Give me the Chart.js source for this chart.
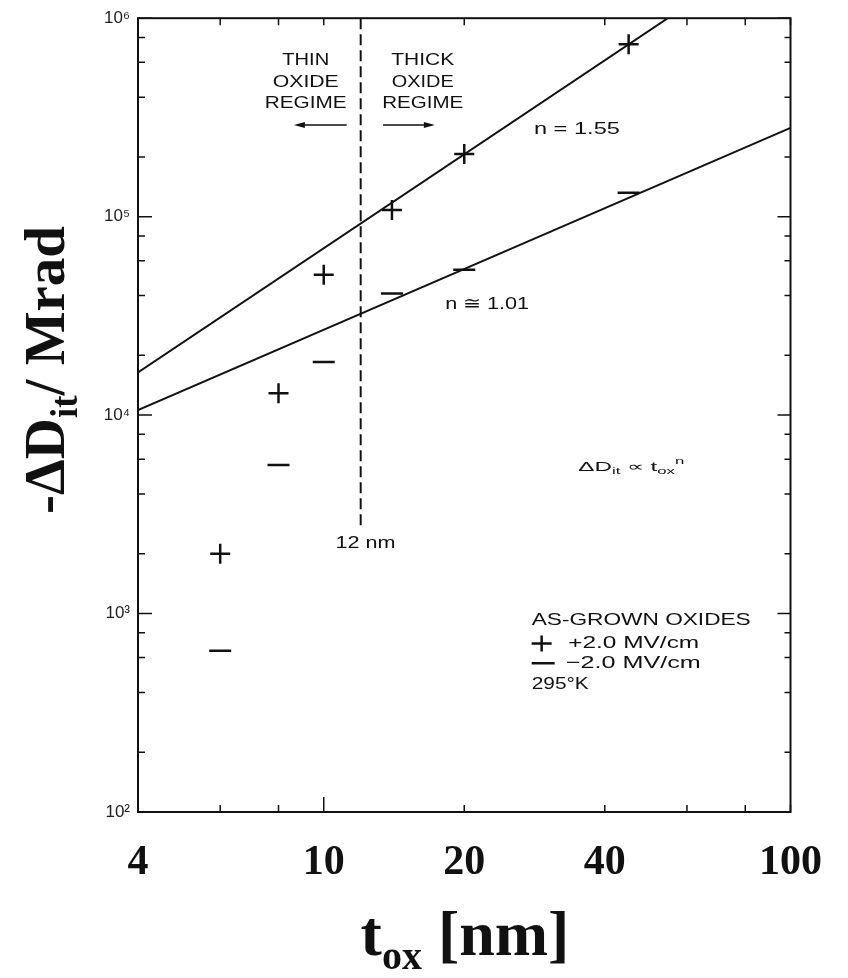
<!DOCTYPE html>
<html>
<head>
<meta charset="utf-8">
<title>Interface traps vs oxide thickness</title>
<script src="https://cdn.jsdelivr.net/npm/chart.js@4"></script>
<style>
  html, body { margin: 0; padding: 0; background: #fff; }
  #wrap { width: 848px; height: 978px; }
</style>
</head>
<body>
<div id="wrap"><canvas id="myChart" width="848" height="978"></canvas></div>
<script>
// oxide thickness (nm) and -dDit per Mrad, +2.0 MV/cm stress
const plusThickness = [6, 8, 10, 14, 20, 45];
const plusDit = [2000, 12900, 51000, 108000, 207000, 740000];
// same for -2.0 MV/cm
const minusThickness = [6, 8, 10, 14, 20, 45];
const minusDit = [650, 5600, 18500, 41000, 54000, 132000];

// power-law fits, end points
const fitSteepX = [4, 54.6];
const fitSteepY = [16400, 1000000];
const fitFlatX = [4, 100];
const fitFlatY = [10600, 280000];

// 12 nm boundary between the two regimes
const boundaryX = [12, 12];
const boundaryY = [1000000, 2700];

// axis ticks
const xTickValues = [4, 6, 8, 10, 20, 40, 60, 80, 100];
const xTickLabels = { 4: '4', 10: '10', 20: '20', 40: '40', 100: '100' };
const yTickValues = [100, 200, 400, 600, 800,
  1000, 2000, 4000, 6000, 8000,
  10000, 20000, 40000, 60000, 80000,
  100000, 200000, 400000, 600000, 800000, 1000000];
const yTickLabels = { 100: '10\u00b2', 1000: '10\u00b3', 10000: '10\u2074', 100000: '10\u2075', 1000000: '10\u2076' };

const INK = '#111';
const SANS = '"Liberation Sans", Arial, sans-serif';
const SERIF = '"Liberation Serif", "Times New Roman", serif';

function pairs(xs, ys) {
  return xs.map((x, i) => ({ x: x, y: ys[i] }));
}

// draws a run of pieces [text, size, dy] squeezed/stretched to a given width
function richText(ctx, pieces, x, y, width, align, weight, family) {
  let total = 0;
  pieces.forEach(p => {
    ctx.font = weight + ' ' + p[1] + 'px ' + family;
    total += ctx.measureText(p[0]).width;
  });
  const sx = width ? width / total : 1;
  ctx.save();
  ctx.translate(x, y);
  ctx.scale(sx, 1);
  let cx = align === 'center' ? -total / 2 : 0;
  ctx.textAlign = 'left';
  pieces.forEach(p => {
    ctx.font = weight + ' ' + p[1] + 'px ' + family;
    ctx.fillText(p[0], cx, p[2] || 0);
    cx += ctx.measureText(p[0]).width;
  });
  ctx.restore();
}

function arrow(ctx, x1, x2, y) {
  const dir = x2 > x1 ? 1 : -1;
  ctx.beginPath();
  ctx.moveTo(x1, y);
  ctx.lineTo(x2 - dir * 6, y);
  ctx.stroke();
  ctx.beginPath();
  ctx.moveTo(x2, y);
  ctx.lineTo(x2 - dir * 11, y - 3);
  ctx.lineTo(x2 - dir * 11, y + 3);
  ctx.closePath();
  ctx.fill();
}

// frame, inward ticks, annotations and axis titles
const decorations = {
  id: 'decorations',
  afterDraw(chart) {
    const { ctx, chartArea: a } = chart;
    const xs = chart.scales.x, ys = chart.scales.y;
    const px = v => xs.getPixelForValue(v);
    const py = v => ys.getPixelForValue(v);
    ctx.save();
    ctx.strokeStyle = INK;
    ctx.fillStyle = INK;

    // ticks on all four sides
    ctx.lineWidth = 1.5;
    ctx.beginPath();
    xTickValues.forEach(v => {
      const x = px(v);
      ctx.moveTo(x, a.bottom);
      ctx.lineTo(x, a.bottom - (v === 10 ? 15 : 7));
      ctx.moveTo(x, a.top);
      ctx.lineTo(x, a.top + 7);
    });
    yTickValues.forEach(v => {
      const y = py(v);
      const major = yTickLabels[v] !== undefined;
      ctx.moveTo(a.left, y);
      ctx.lineTo(a.left + (major ? 14 : 7), y);
      ctx.moveTo(a.right, y);
      ctx.lineTo(a.right - (major ? 13 : 6), y);
    });
    ctx.stroke();

    ctx.lineWidth = 2;
    ctx.strokeRect(a.left, a.top, a.right - a.left, a.bottom - a.top);

    // regime labels
    ctx.textBaseline = 'middle';
    const f = 17;
    const w = 'normal';
    richText(ctx, [['THIN', f]], px(9.15), py(6.15e5), 47, 'center', w, SANS);
    richText(ctx, [['OXIDE', f]], px(9.15), py(4.77e5), 66, 'center', w, SANS);
    richText(ctx, [['REGIME', f]], px(9.15), py(3.74e5), 82, 'center', w, SANS);
    richText(ctx, [['THICK', f]], px(16.3), py(6.15e5), 63, 'center', w, SANS);
    richText(ctx, [['OXIDE', f]], px(16.3), py(4.77e5), 62, 'center', w, SANS);
    richText(ctx, [['REGIME', f]], px(16.3), py(3.74e5), 81, 'center', w, SANS);
    ctx.lineWidth = 1.5;
    arrow(ctx, px(11.2), px(8.63), py(2.9e5));
    arrow(ctx, px(13.4), px(17.3), py(2.9e5));

    richText(ctx, [['n = 1.55', f]], px(28.2), py(2.77e5), 86, 'left', w, SANS);
    richText(ctx, [['n \u2245 1.01', f]], px(18.2), py(3.6e4), 84, 'left', w, SANS);
    richText(ctx, [['\u0394D', 13], ['it', 9, 4], [' \u221d t', 13], ['ox', 9, 4], ['n', 9, -6]],
      px(35.1), py(5420), 106, 'left', w, SANS);
    richText(ctx, [['12 nm', f]], px(10.6), py(2250), 60, 'left', w, SANS);

    // key
    richText(ctx, [['AS-GROWN OXIDES', f]], px(27.9), py(923), 219, 'left', w, SANS);
    richText(ctx, [['+2.0 MV/cm', f]], px(33.4), py(706), 131, 'left', w, SANS);
    richText(ctx, [['\u22122.0 MV/cm', f]], px(33.0), py(561), 135, 'left', w, SANS);
    richText(ctx, [['295\u00b0K', f]], px(27.9), py(440), 57, 'left', w, SANS);
    ctx.lineWidth = 2.5;
    const kx = px(29.3);
    ctx.beginPath();
    ctx.moveTo(kx - 10, py(706));
    ctx.lineTo(kx + 10, py(706));
    ctx.moveTo(kx, py(706) - 8);
    ctx.lineTo(kx, py(706) + 8);
    ctx.moveTo(kx - 10, py(561));
    ctx.lineTo(kx + 13, py(561));
    ctx.stroke();

    // axis titles
    ctx.textBaseline = 'alphabetic';
    richText(ctx, [['t', 64], ['ox', 40, 14], [' [nm]', 64]], 465, 955, 0, 'center', 'bold', SERIF);
    ctx.save();
    ctx.translate(64, 370);
    ctx.rotate(-Math.PI / 2);
    richText(ctx, [['-\u0394D', 57], ['it', 37, 13], ['/ Mrad', 57]], 0, 0, 0, 'center', 'bold', SERIF);
    ctx.restore();

    ctx.restore();
  }
};

const ctx = document.getElementById('myChart').getContext('2d');
const myChart = new Chart(ctx, {
  type: 'scatter',
  data: {
    datasets: [
      {
        data: pairs(fitSteepX, fitSteepY),
        showLine: true, borderColor: INK, borderWidth: 2, pointRadius: 0
      },
      {
        data: pairs(fitFlatX, fitFlatY),
        showLine: true, borderColor: INK, borderWidth: 2, pointRadius: 0
      },
      {
        data: pairs(boundaryX, boundaryY),
        showLine: true, borderColor: INK, borderWidth: 2, borderDash: [11, 5], pointRadius: 0
      },
      {
        data: pairs(plusThickness, plusDit),
        pointStyle: 'cross', pointRadius: 10, borderWidth: 2.5, borderColor: INK
      },
      {
        data: pairs(minusThickness, minusDit),
        pointStyle: 'line', pointRadius: 11, borderWidth: 2.5, borderColor: INK
      }
    ]
  },
  plugins: [decorations],
  options: {
    responsive: false,
    animation: false,
    layout: { padding: { top: 16, right: 52, left: 0, bottom: 0 } },
    plugins: {
      legend: { display: false },
      tooltip: { enabled: false }
    },
    scales: {
      x: {
        type: 'logarithmic',
        min: 4,
        max: 100,
        afterBuildTicks: s => { s.ticks = xTickValues.map(v => ({ value: v })); },
        afterFit: s => { s.height = 166; },
        grid: { display: false, drawTicks: false },
        border: { display: false },
        ticks: {
          autoSkip: false,
          maxRotation: 0,
          padding: 26,
          color: INK,
          font: { family: SERIF, weight: 'bold', size: 42 },
          callback: v => xTickLabels[v] || ''
        }
      },
      y: {
        type: 'logarithmic',
        min: 100,
        max: 1000000,
        afterBuildTicks: s => { s.ticks = yTickValues.map(v => ({ value: v })); },
        afterFit: s => { s.width = 138; },
        grid: { display: false, drawTicks: false },
        border: { display: false },
        ticks: {
          autoSkip: false,
          padding: 8,
          color: '#222',
          font: { family: SANS, size: 17 },
          callback: v => yTickLabels[v] || ''
        }
      }
    }
  }
});
</script>
</body>
</html>
